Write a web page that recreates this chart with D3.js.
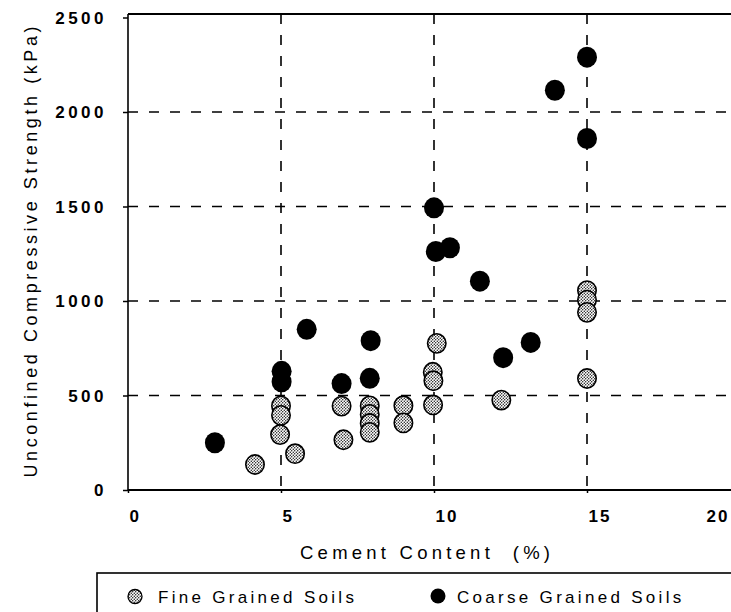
<!DOCTYPE html>
<html><head><meta charset="utf-8">
<script src="https://cdn.jsdelivr.net/npm/d3@7"></script>
<style>body{margin:0;background:#fff} text{font-family:"Liberation Sans",Arial,Helvetica,sans-serif;fill:#000}</style>
</head><body><svg id="c" width="731" height="612"></svg>
<script>
// ---- data ----
const fineCement   = [4.15, 5.0, 5.0, 4.97, 5.46, 6.98, 7.04, 7.9, 7.9, 7.9, 7.9, 9.0, 9.0, 10.09, 9.96, 9.98, 9.97, 12.2, 15.0, 15.0, 15.0, 15.0];
const fineStrength = [135, 445, 395, 293, 192, 444, 266, 445, 400, 352, 305, 446, 355, 776, 623, 578, 450, 476, 1055, 1005, 940, 590];
const coarseCement   = [2.84, 5.02, 5.02, 5.84, 6.98, 7.93, 7.9, 10.0, 10.06, 10.52, 11.5, 12.26, 13.16, 13.95, 15.0, 15.0];
const coarseStrength = [250, 628, 573, 850, 563, 790, 591, 1493, 1262, 1282, 1105, 700, 781, 2115, 2290, 1860];
const xTickValues = [0, 5, 10, 15, 20];
const yTickValues = [0, 500, 1000, 1500, 2000, 2500];
const xGridValues = [5, 10, 15];
const yGridValues = [500, 1000, 1500, 2000];
const seriesNames = ["Fine Grained Soils", "Coarse Grained Soils"];
const xTitle = "Cement Content  (%)";
const yTitle = "Unconfined Compressive Strength (kPa)";

// ---- layout ----
const svg = d3.select("#c");
const L = 128, R = 731, T = 14, B = 490;
const x = d3.scaleLinear().domain([0, 15]).range([128, 587]);
const y = d3.scaleLinear().domain([0, 2000]).range([490, 112]);

const defs = svg.append("defs");
const pat = defs.append("pattern").attr("id", "stip").attr("patternUnits", "userSpaceOnUse")
  .attr("width", 3).attr("height", 3);
pat.append("rect").attr("width", 3).attr("height", 3).attr("fill", "#fff");
pat.append("circle").attr("cx", 0.75).attr("cy", 0.75).attr("r", 0.7).attr("fill", "#000");
pat.append("circle").attr("cx", 2.25).attr("cy", 2.25).attr("r", 0.7).attr("fill", "#000");

// grid
svg.append("g").selectAll("line").data(yGridValues).join("line")
  .attr("x1", L).attr("x2", R).attr("y1", d => y(d)).attr("y2", d => y(d))
  .attr("stroke", "#000").attr("stroke-width", 1.6).attr("stroke-dasharray", "10,11");
svg.append("g").selectAll("line").data(xGridValues).join("line")
  .attr("y1", T).attr("y2", B).attr("x1", d => x(d)).attr("x2", d => x(d))
  .attr("stroke", "#000").attr("stroke-width", 1.6).attr("stroke-dasharray", "10,11");

// axes
const xAxis = svg.append("g").attr("transform", `translate(0,${B})`)
  .call(d3.axisBottom(x).tickValues(xTickValues).tickSize(3).tickFormat(d3.format("d")));
xAxis.select(".domain").remove();
xAxis.selectAll(".tick line").attr("stroke", "#000").attr("stroke-width", 1.5);
xAxis.selectAll(".tick text").attr("text-anchor", "start").attr("y", 0).attr("dy", 0)
  .attr("transform", "translate(1,32)")
  .style("font-size", "17px").style("font-weight", "bold").style("letter-spacing", "2px");
xAxis.selectAll(".tick").filter(d => d === 20).select("text").attr("transform", "translate(-34,32)");

const yAxis = svg.append("g").attr("transform", `translate(${L},0)`)
  .call(d3.axisLeft(y).tickValues(yTickValues).tickSize(5).tickFormat(d3.format("d")));
yAxis.select(".domain").remove();
yAxis.selectAll(".tick line").attr("stroke", "#000").attr("stroke-width", 1.5);
yAxis.selectAll(".tick text").attr("x", -21).attr("dy", "0.35em")
  .style("font-size", "17px").style("font-weight", "bold").style("letter-spacing", "3.5px");

// frame lines
svg.append("line").attr("x1", L).attr("x2", R + 5).attr("y1", B).attr("y2", B).attr("stroke", "#000").attr("stroke-width", 2);
svg.append("line").attr("x1", L).attr("x2", L).attr("y1", T).attr("y2", B).attr("stroke", "#000").attr("stroke-width", 1.6);
svg.append("line").attr("x1", L).attr("x2", R + 5).attr("y1", T).attr("y2", T).attr("stroke", "#000").attr("stroke-width", 2);

// points
const fine = fineCement.map((c, i) => ({c, s: fineStrength[i]}));
const coarse = coarseCement.map((c, i) => ({c, s: coarseStrength[i]}));
svg.append("g").selectAll("ellipse").data(coarse).join("ellipse")
  .attr("cx", d => x(d.c)).attr("cy", d => y(d.s)).attr("rx", 10).attr("ry", 10.5).attr("fill", "#000");
svg.append("g").selectAll("ellipse").data(fine).join("ellipse")
  .attr("cx", d => x(d.c)).attr("cy", d => y(d.s)).attr("rx", 9.2).attr("ry", 9.6)
  .attr("fill", "url(#stip)").attr("stroke", "#000").attr("stroke-width", 1.6);

// titles
svg.append("text").attr("x", 425).attr("y", 559).attr("text-anchor", "middle")
  .style("font-size", "18.5px").style("white-space", "pre")
  .attr("textLength", 250).attr("lengthAdjust", "spacing").text(xTitle);
svg.append("text").attr("transform", "translate(37,252) rotate(-90)").attr("text-anchor", "middle")
  .style("font-size", "18px").attr("textLength", 451).attr("lengthAdjust", "spacing").text(yTitle);

// legend
svg.append("rect").attr("x", 97).attr("y", 573).attr("width", 700).attr("height", 80)
  .attr("fill", "none").attr("stroke", "#000").attr("stroke-width", 1.6);
const lg = svg.append("g");
lg.append("circle").attr("cx", 135).attr("cy", 596.5).attr("r", 7)
  .attr("fill", "url(#stip)").attr("stroke", "#000").attr("stroke-width", 1.3);
lg.append("text").attr("x", 158).attr("y", 603).style("font-size", "17px").style("letter-spacing", "3.3px").text(seriesNames[0]);
lg.append("circle").attr("cx", 438).attr("cy", 596).attr("r", 7.5).attr("fill", "#000");
lg.append("text").attr("x", 457).attr("y", 603).style("font-size", "17px").style("letter-spacing", "3.3px").text(seriesNames[1]);
</script></body></html>
